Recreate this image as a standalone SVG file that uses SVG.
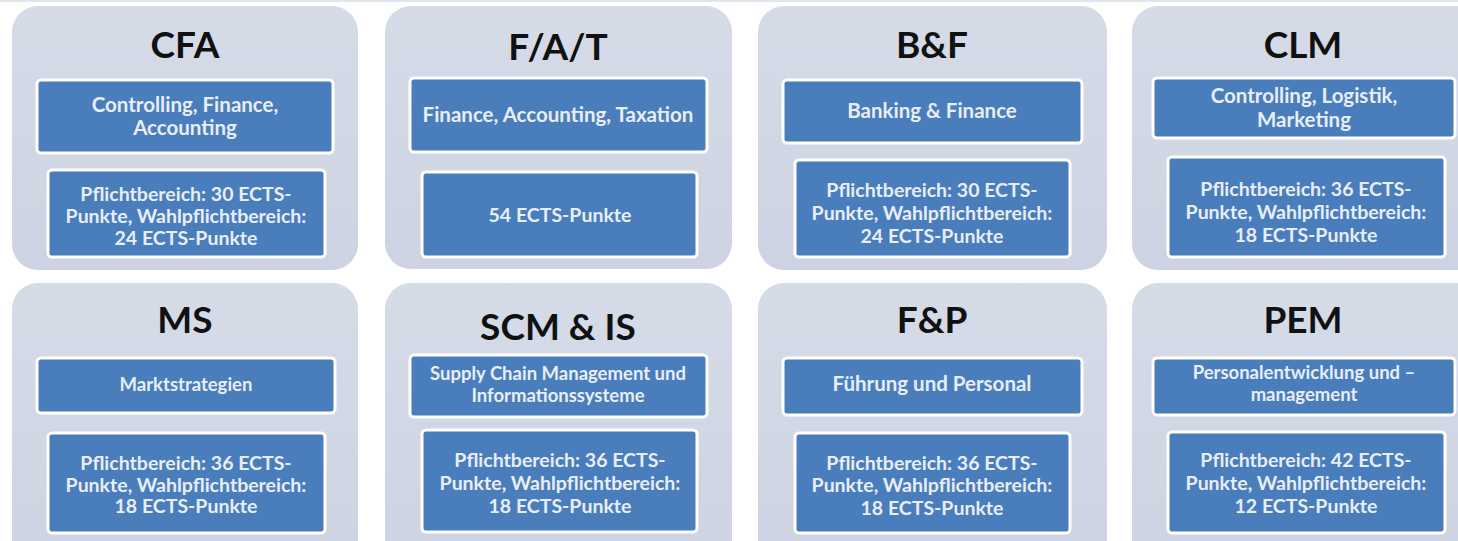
<svg xmlns="http://www.w3.org/2000/svg" width="1458" height="541" viewBox="0 0 1458 541">
<defs>
<linearGradient id="og" x1="0" y1="0" x2="0" y2="1">
<stop offset="0" stop-color="#d6dbe8"/>
<stop offset="1" stop-color="#cdd3e2"/>
</linearGradient>
<style>
.outer{fill:url(#og);}
.inner{fill:#4a7dbb;stroke:#ffffff;stroke-width:3;}
.title{font-family:Lato,"Liberation Sans",sans-serif;font-weight:bold;font-size:37px;fill:#111;text-anchor:middle;}
.lbl{font-family:Lato,"Liberation Sans",sans-serif;font-weight:bold;font-size:20.5px;fill:#e8eef8;text-anchor:middle;}
.sm{font-size:19.5px;}
.tight{font-size:18.5px;}
</style>
</defs>
<rect width="1458" height="541" fill="#ffffff"/>
<line x1="0" y1="1" x2="1458" y2="1" stroke="#dfe6f0" stroke-width="2"/>
<g id="connectors"/>
<g id="cfa">
<rect class="outer" x="12" y="6" width="346" height="264" rx="26"/>
<text class="title" x="185" y="58">CFA</text>
<rect class="inner" x="37" y="80" width="296" height="73" rx="4"/>
<text class="lbl" x="185" y="112">Controlling, Finance,</text>
<text class="lbl" x="185" y="135">Accounting</text>
<rect class="inner" x="48" y="170" width="277" height="87" rx="4"/>
<text class="lbl sm" x="186" y="201">Pflichtbereich: 30 ECTS-</text>
<text class="lbl sm" x="186" y="223">Punkte, Wahlpflichtbereich:</text>
<text class="lbl sm" x="186" y="245">24 ECTS-Punkte</text>
</g>
<g id="fat">
<rect class="outer" x="385" y="6" width="347" height="263" rx="26"/>
<text class="title" x="558" y="60">F/A/T</text>
<rect class="inner" x="410" y="78" width="297" height="74" rx="4"/>
<text class="lbl" x="558" y="122">Finance, Accounting, Taxation</text>
<rect class="inner" x="422" y="172" width="275" height="85" rx="4"/>
<text class="lbl sm" x="560" y="222">54 ECTS-Punkte</text>
</g>
<g id="bf">
<rect class="outer" x="758" y="6" width="349" height="264" rx="26"/>
<text class="title" x="932" y="58">B&amp;F</text>
<rect class="inner" x="783" y="80" width="299" height="63" rx="4"/>
<text class="lbl" x="932" y="118">Banking &amp; Finance</text>
<rect class="inner" x="795" y="160" width="275" height="97" rx="4"/>
<text class="lbl sm" x="932" y="197">Pflichtbereich: 30 ECTS-</text>
<text class="lbl sm" x="932" y="220">Punkte, Wahlpflichtbereich:</text>
<text class="lbl sm" x="932" y="243">24 ECTS-Punkte</text>
</g>
<g id="clm">
<rect class="outer" x="1132" y="6" width="360" height="264" rx="26"/>
<text class="title" x="1303" y="58">CLM</text>
<rect class="inner" x="1153" y="78" width="302" height="60" rx="4"/>
<text class="lbl" x="1304" y="103">Controlling, Logistik,</text>
<text class="lbl" x="1304" y="127">Marketing</text>
<rect class="inner" x="1168" y="157" width="277" height="100" rx="4"/>
<text class="lbl sm" x="1306" y="196">Pflichtbereich: 36 ECTS-</text>
<text class="lbl sm" x="1306" y="219">Punkte, Wahlpflichtbereich:</text>
<text class="lbl sm" x="1306" y="242">18 ECTS-Punkte</text>
</g>
<g id="ms">
<rect class="outer" x="12" y="283" width="346" height="290" rx="26"/>
<text class="title" x="185" y="333">MS</text>
<rect class="inner" x="37" y="358" width="298" height="55" rx="4"/>
<text class="lbl tight" x="186" y="391">Marktstrategien</text>
<rect class="inner" x="48" y="433" width="277" height="100" rx="4"/>
<text class="lbl sm" x="186" y="470">Pflichtbereich: 36 ECTS-</text>
<text class="lbl sm" x="186" y="492">Punkte, Wahlpflichtbereich:</text>
<text class="lbl sm" x="186" y="513">18 ECTS-Punkte</text>
</g>
<g id="scmis">
<rect class="outer" x="385" y="283" width="347" height="290" rx="26"/>
<text class="title" x="558" y="340">SCM &amp; IS</text>
<rect class="inner" x="410" y="355" width="297" height="62" rx="4"/>
<text class="lbl tight" x="558" y="380">Supply Chain Management und</text>
<text class="lbl tight" x="558" y="402">Informationssysteme</text>
<rect class="inner" x="422" y="430" width="275" height="102" rx="4"/>
<text class="lbl sm" x="560" y="467">Pflichtbereich: 36 ECTS-</text>
<text class="lbl sm" x="560" y="490">Punkte, Wahlpflichtbereich:</text>
<text class="lbl sm" x="560" y="513">18 ECTS-Punkte</text>
</g>
<g id="fp">
<rect class="outer" x="758" y="283" width="349" height="290" rx="26"/>
<text class="title" x="932" y="333">F&amp;P</text>
<rect class="inner" x="783" y="358" width="299" height="57" rx="4"/>
<text class="lbl" x="932" y="391">Führung und Personal</text>
<rect class="inner" x="795" y="433" width="275" height="100" rx="4"/>
<text class="lbl sm" x="932" y="470">Pflichtbereich: 36 ECTS-</text>
<text class="lbl sm" x="932" y="492">Punkte, Wahlpflichtbereich:</text>
<text class="lbl sm" x="932" y="515">18 ECTS-Punkte</text>
</g>
<g id="pem">
<rect class="outer" x="1132" y="283" width="360" height="290" rx="26"/>
<text class="title" x="1303" y="333">PEM</text>
<rect class="inner" x="1153" y="358" width="302" height="57" rx="4"/>
<text class="lbl tight" x="1304" y="379">Personalentwicklung und –</text>
<text class="lbl tight" x="1304" y="401">management</text>
<rect class="inner" x="1168" y="432" width="277" height="101" rx="4"/>
<text class="lbl sm" x="1306" y="467">Pflichtbereich: 42 ECTS-</text>
<text class="lbl sm" x="1306" y="490">Punkte, Wahlpflichtbereich:</text>
<text class="lbl sm" x="1306" y="513">12 ECTS-Punkte</text>
</g>
</svg>
